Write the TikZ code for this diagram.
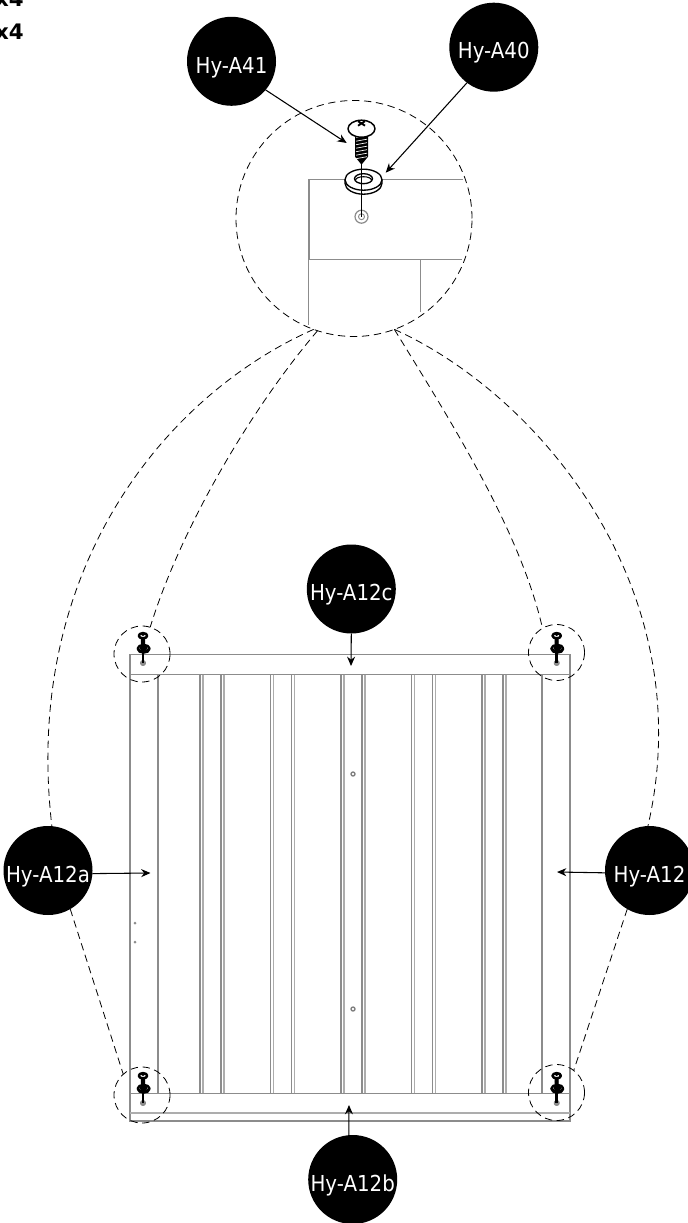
\documentclass[tikz,border=0pt]{standalone}
\usepackage{fontspec}
\setmainfont{DejaVu Sans}
\newfontfamily\labelfont[FakeStretch=0.9]{DejaVu Sans}
\usetikzlibrary{arrows.meta}
\newcommand{\screwlw}{1pt}
\newcommand{\threadcol}{white}
\newcommand{\washery}{-37}
\tikzset{
  tag/.style={circle,fill=black,text=white,inner sep=0pt,outer sep=0pt,minimum size=66.75pt,text height=17.6pt,text depth=0pt,font=\labelfont\fontsize{16.5pt}{18pt}\selectfont},
  countlabel/.style={anchor=base east,inner sep=0pt,font=\bfseries\fontsize{16pt}{17pt}\selectfont},
  zoomring/.style={circle,draw=black,dash pattern=on 5.5pt off 3.5pt,line width=0.6pt,inner sep=0pt,outer sep=0pt},
  linkline/.style={draw=black,dash pattern=on 5.5pt off 3.5pt,line width=0.6pt},
  callout/.style={draw=black,line width=0.8pt,-{Stealth[length=7pt,width=6pt]}},
  edge1/.style={draw=black!45,line width=1pt},
  edge2/.style={draw=black!32,line width=1pt},
  pair/.style={draw=black!45,line width=1pt},
  screw/.pic={
    \tikzset{every path/.append style={line join=round}}
    \draw[draw=black!45,fill=white,line width=\screwlw*0.9] (0,0) circle[radius=6.5];
    \draw[draw=black!45,line width=\screwlw*0.7] (0,0) circle[radius=3];
    \draw[draw=black,fill=white,line width=\screwlw] (-16.5,\washery) -- (-16.5,\washery+3.5) arc[start angle=180,end angle=360,x radius=18.5,y radius=-11] -- (20.5,\washery);
    \draw[draw=black,fill=white,line width=\screwlw] (2,\washery) ellipse[x radius=18.5,y radius=10.5];
    \draw[draw=black,fill=white,line width=\screwlw] (2,\washery-1) ellipse[x radius=9,y radius=5];
    \draw[draw=black,line width=\screwlw*0.8] (-6,\washery+0.5) arc[start angle=180,end angle=0,x radius=8,y radius=-3.5];
    \draw[draw=black,line width=\screwlw*1.1] (0,-56) -- (0,0);
    \fill[black] (-6.5,-82) -- (6.5,-82) -- (6.5,-60) -- (0,-52) -- (-6.5,-60) -- cycle;
    \foreach \yy in {-80,-76.5,...,-58}{
      \draw[\threadcol,line width=0.5pt] (-5.5,\yy+1) -- (5.5,\yy-1);
    }
    \draw[draw=black,fill=white,line width=\screwlw*1.1] (0,-88) ellipse[x radius=13.5,y radius=8.5];
    \draw[black,line width=\screwlw*1.4] (-3.5,-95.5) -- (3.5,-91) (3.5,-95.5) -- (-3.5,-91);
  }
}
\begin{document}
\begin{tikzpicture}[x=0.75pt,y=-0.75pt]
\path[use as bounding box,clip] (0,0) rectangle (688,1223);

\node[countlabel] (qa) at (24,7) {x4};
\node[countlabel] (qb) at (24,40) {x4};

% detail view
\draw[edge1] (463,179.5) -- (308.5,179.5) -- (308.5,325);
\draw[edge1,line width=1.5pt] (308.5,179.5) -- (308.5,259.5);
\draw[edge1] (308.5,259.5) -- (462,259.5);
\draw[edge1] (420.7,259.5) -- (420.7,312);
\pic at (361.5,216.7) {screw};
\node[zoomring,minimum size=177pt] (big) at (354,218.5) {};

% panel
\draw[edge1] (130,654.5) rectangle (570,1121);
\draw[edge1] (130,674.5) -- (570,674.5);
\draw[edge1] (130,1093.3) -- (570,1093.3);
\draw[edge2] (130,1113) -- (570,1113);
\draw[edge1] (158,674.5) -- (158,1093.3);
\draw[edge1] (542,674.5) -- (542,1093.3);
\foreach \xx in {200,221,270.5,291.5,341,362,411.5,432.5,482,503}{
  \draw[pair] (\xx,674.5) -- (\xx,1093.3);
  \draw[edge2] (\xx+3,674.5) -- (\xx+3,1093.3);
}
\draw[black!50,fill=white,line width=1pt] (353,774) circle[radius=2];
\draw[black!50,fill=white,line width=1pt] (353,1009) circle[radius=2];
\fill[black!45] (135,923) circle[radius=1.5];
\fill[black!45] (135,942) circle[radius=1.5];

% small screws
\renewcommand{\screwlw}{1.7pt}
\renewcommand{\threadcol}{black}
\renewcommand{\washery}{-48}
\pic[scale=0.31] at (143,663) {screw};
\pic[scale=0.31] at (556.7,663) {screw};
\pic[scale=0.31] at (143,1103) {screw};
\pic[scale=0.31] at (556.7,1103) {screw};

\node[zoomring,minimum size=42pt] (tl) at (142,654) {};
\node[zoomring,minimum size=42pt] (tr) at (556.5,652.5) {};
\node[zoomring,minimum size=42pt] (bl) at (142,1095) {};
\node[zoomring,minimum size=42pt] (br) at (556.5,1092.5) {};

% tags
\node[tag] (a41) at (231.5,61.3) {Hy-A41};
\node[tag] (a40) at (493.8,47.2) {Hy-A40};
\node[tag] (a12c) at (351.3,589) {Hy-A12c};
\node[tag] (a12a) at (48,870.5) {Hy-A12a};
\node[tag] (a12) at (649.5,870.5) {Hy-A12};
\node[tag] (a12b) at (352.7,1179.5) {Hy-A12b};

% link lines
\path[linkline] (big.250) .. controls (165,395) and (22,570) .. (a12a.85);
\path[linkline] (big.252) .. controls (250,410) and (180,530) .. (tl.73);
\path[linkline] (big.290) .. controls (450,420) and (520,530) .. (tr.120);
\path[linkline] (big.290) .. controls (540,395) and (702,590) .. (a12.92);
\path[linkline] (a12a.-60) -- (bl.132);
\path[linkline] (a12.-120) -- (br.52);

% callouts
\coordinate (t41) at (346.7,143);
\coordinate (t40) at (385.7,172.7);
\coordinate (t12c) at (351,666);
\coordinate (t12a) at (150.5,873);
\coordinate (t12) at (557,872);
\coordinate (t12b) at (349,1105);
\draw[callout] (a41.-40) -- (t41);
\draw[callout] (a40.233) -- (t40);
\draw[callout] (a12c.-90) -- (t12c);
\draw[callout] (a12a.-4) -- (t12a);
\draw[callout] (a12.183) -- (t12);
\draw[callout] (a12b.95) -- (t12b);
\end{tikzpicture}
\end{document}
